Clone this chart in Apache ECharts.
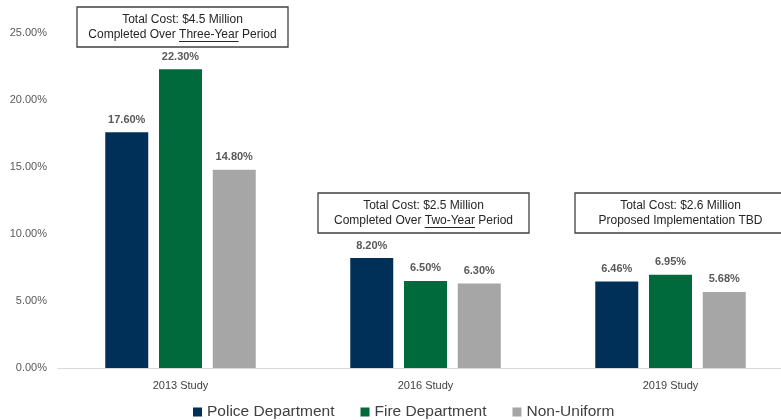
<!DOCTYPE html>
<html>
<head>
<meta charset="utf-8">
<script src="https://cdn.jsdelivr.net/npm/echarts@6/dist/echarts.min.js"></script>
<style>html,body{margin:0;padding:0;background:#fff;}#c{width:781px;height:420px;}</style>
</head>
<body>
<div id="c"></div>
<script>
var categories = ['2013 Study', '2016 Study', '2019 Study'];
var seriesNames = ['Police Department', 'Fire Department', 'Non-Uniform'];
var police = [17.60, 8.20, 6.46];
var fire = [22.30, 6.50, 6.95];
var nonUniform = [14.80, 6.30, 5.68];
var yTicks = [0, 5, 10, 15, 20, 25];
var notes = [
  ['Total Cost: $4.5 Million', 'Completed Over ', 'Three-Year', ' Period'],
  ['Total Cost: $2.5 Million', 'Completed Over ', 'Two-Year', ' Period'],
  ['Total Cost: $2.6 Million', 'Proposed Implementation TBD', '', '']
];

var FONT = 'Liberation Sans, Arial, sans-serif';
var colors = ['#003057', '#006a3c', '#a6a6a6'];
var chart = echarts.init(document.getElementById('c'));

function mkSeries(name, data, i) {
  return {
    name: name, type: 'bar', data: data, barWidth: 43, barGap: '25%',
    itemStyle: { color: colors[i] },
    label: {
      show: true, position: 'top', distance: 7,
      formatter: function (p) { return p.value.toFixed(2) + '%'; },
      color: '#595959', fontWeight: 'bold', fontSize: 11, fontFamily: FONT
    }
  };
}

var option = {
  animation: false,
  grid: { left: 58, right: -12, top: 33, bottom: 52, containLabel: false, outerBoundsMode: 'none' },
  legend: {
    data: seriesNames, left: 193, top: 404, padding: 0, itemWidth: 9, itemHeight: 9, itemGap: 26,
    icon: 'rect',
    textStyle: { fontSize: 15.5, color: '#404040', fontFamily: FONT }
  },
  xAxis: {
    type: 'category', data: categories,
    axisLine: { lineStyle: { color: '#d9d9d9', width: 1 } },
    axisTick: { show: false },
    axisLabel: { fontSize: 11, color: '#404040', fontFamily: FONT, margin: 12 }
  },
  yAxis: {
    type: 'value', min: yTicks[0], max: yTicks[yTicks.length - 1], interval: 5,
    axisLine: { show: false }, axisTick: { show: false }, splitLine: { show: false },
    axisLabel: {
      fontSize: 11, color: '#595959', fontFamily: FONT, margin: 11,
      formatter: function (v) { return v.toFixed(2) + '%'; }
    }
  },
  series: [mkSeries(seriesNames[0], police, 0), mkSeries(seriesNames[1], fire, 1), mkSeries(seriesNames[2], nonUniform, 2)]
};
chart.setOption(option);

// annotation boxes
var ctx = document.createElement('canvas').getContext('2d');
var NOTE_FS = 12;
ctx.font = NOTE_FS + 'px ' + FONT;
var boxes = [
  { x: 77, y: 7 },
  { x: 318, y: 193 },
  { x: 575, y: 193 }
];
var graphics = [];
boxes.forEach(function (b, i) {
  var w = 211, h = 40;
  var cx = b.x + w / 2;
  graphics.push({ type: 'rect', shape: { x: b.x, y: b.y, width: w, height: h },
    style: { fill: '#fff', stroke: '#404040', lineWidth: 1.3 }, z: 100 });
  var n = notes[i];
  graphics.push({ type: 'text', x: cx, y: b.y + 13, z: 101,
    style: { text: n[0], align: 'center', verticalAlign: 'middle', font: NOTE_FS + 'px ' + FONT, fill: '#262626' } });
  var line2 = n[1] + n[2] + n[3];
  graphics.push({ type: 'text', x: cx, y: b.y + 28, z: 101,
    style: { text: line2, align: 'center', verticalAlign: 'middle', font: NOTE_FS + 'px ' + FONT, fill: '#262626' } });
  if (n[2]) {
    var full = ctx.measureText(line2).width;
    var pre = ctx.measureText(n[1]).width;
    var wd = ctx.measureText(n[2]).width;
    var sx = cx - full / 2 + pre;
    graphics.push({ type: 'line', z: 101, shape: { x1: sx, y1: b.y + 34.5, x2: sx + wd, y2: b.y + 34.5 },
      style: { stroke: '#262626', lineWidth: 1 } });
  }
});
chart.setOption({ graphic: graphics });
</script>
</body>
</html>
